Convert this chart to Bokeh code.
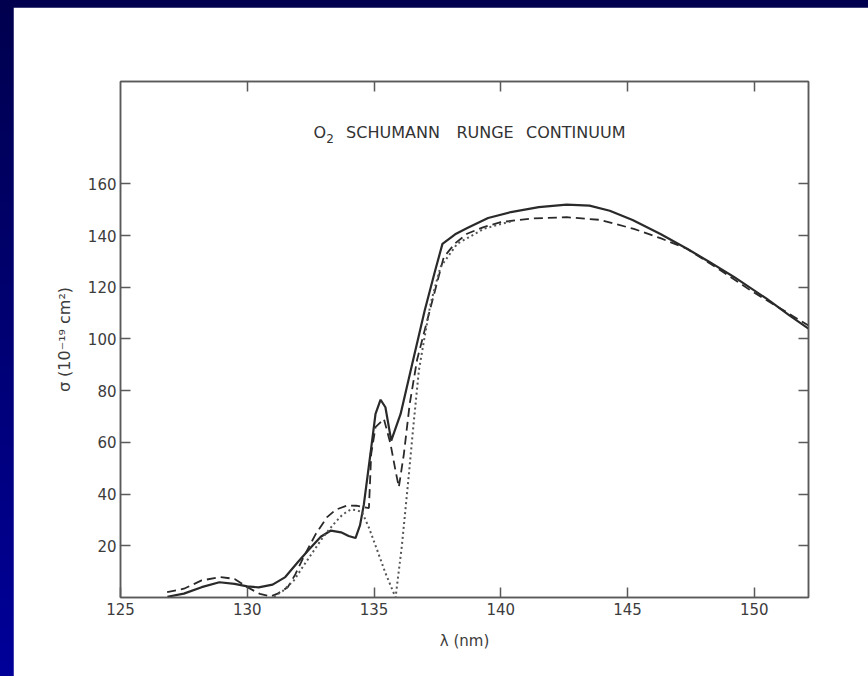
from bokeh.plotting import figure
from bokeh.models import Range1d, FixedTicker, LinearAxis, Label
from bokeh.layouts import column
from bokeh.embed import file_html
from bokeh.resources import INLINE

# wavelength (nm) / cross section (1e-19 cm^2)
solid_x = [126.85, 127.5, 128.2, 128.9, 129.5, 130.0, 130.45, 131.0, 131.5, 132.0, 132.4, 132.9,
           133.3, 133.7, 134.0, 134.27, 134.45, 134.6, 134.86, 135.06, 135.26, 135.45, 135.68,
           136.05, 136.5, 137.0, 137.4, 137.7, 138.2, 138.7, 139.5, 140.4, 141.5, 142.6, 143.5,
           144.3, 145.2, 146.3, 147.35, 148.2, 149.2, 150.5, 151.4, 152.14]
solid_y = [0.3, 1.5, 4.0, 5.9, 5.3, 4.3, 3.9, 5.0, 7.9, 13.7, 18.2, 23.5,
           25.9, 25.2, 23.8, 23.0, 28.0, 36.0, 55.6, 71.0, 76.5, 73.6, 60.7,
           71.0, 90.0, 111.0, 126.0, 136.8, 140.5, 143.0, 146.8, 149.1, 151.0, 152.0, 151.6,
           149.6, 146.0, 140.6, 134.9, 130.0, 124.0, 115.5, 109.0, 104.0]

dashed_x = [126.84, 127.5, 128.2, 128.94, 129.5, 130.0, 130.5, 130.92, 131.2, 131.6, 131.9, 132.25,
            132.7, 133.15, 133.5, 133.95, 134.3, 134.6, 134.8, 134.89, 135.06, 135.39, 135.65,
            135.85, 135.98, 136.18, 136.41, 136.7, 137.2, 137.75, 138.2, 138.67, 139.3, 140.0,
            141.2, 142.6, 143.9, 145.25, 146.3, 147.35, 148.6, 149.85, 151.0, 152.14]
dashed_y = [2.1, 3.4, 6.6, 7.9, 7.2, 4.0, 1.4, 0.4, 1.5, 4.0, 9.0, 16.2,
            24.5, 31.1, 34.0, 35.6, 35.5, 34.9, 34.6, 55.6, 65.9, 69.1, 59.5,
            49.0, 42.7, 55.6, 75.0, 92.0, 111.0, 131.6, 137.0, 140.7, 143.2, 145.2,
            146.6, 147.1, 146.1, 142.6, 139.0, 134.9, 127.0, 118.8, 112.0, 105.2]

dotted_x = [131.05, 131.4, 131.84, 132.2, 132.63, 133.0, 133.42, 133.75, 134.07, 134.3, 134.53,
            134.8, 135.13, 135.45, 135.85, 136.1, 136.35, 136.55, 136.77, 137.0, 137.23, 137.62,
            138.28, 139.33, 140.0, 140.5]
dotted_y = [0.3, 2.5, 6.6, 12.0, 18.2, 23.5, 28.5, 32.0, 34.0, 33.8, 33.0,
            27.0, 18.2, 9.5, 0.0, 20.0, 45.0, 66.0, 87.8, 101.0, 113.6, 127.8,
            136.8, 142.6, 144.5, 145.7]

x_ticks = [125, 130, 135, 140, 145, 150]
y_ticks = [20, 40, 60, 80, 100, 120, 140, 160]

INK = "#2a2a2a"
AX = "#5a5a5a"
FONT = "DejaVu Sans"

p = figure(width=855, height=669, output_backend="svg", toolbar_location=None,
           x_range=Range1d(125, 152.14), y_range=Range1d(0, 199.6),
           min_border_left=107, min_border_right=60, min_border_top=74, min_border_bottom=79,
           background_fill_color="white", border_fill_color="white")
p.xgrid.visible = False
p.ygrid.visible = False
p.outline_line_color = AX
p.outline_line_width = 1.5

def style_axis(ax, ticks, labels=True):
    ax.ticker = FixedTicker(ticks=ticks)
    ax.axis_line_color = AX
    ax.axis_line_width = 1.5
    ax.major_tick_line_color = AX
    ax.major_tick_line_width = 1.5
    ax.major_tick_in = 10
    ax.major_tick_out = 0
    ax.minor_tick_line_color = None
    ax.major_label_text_font = FONT
    if labels:
        ax.major_label_text_color = "#3c3c3c"
        ax.major_label_text_font_size = "15px"
    else:
        ax.major_label_text_color = None
        ax.major_label_text_font_size = "1px"
        ax.major_label_standoff = 0

xa = p.xaxis[0]
style_axis(xa, x_ticks)
xa.major_label_standoff = 5
xa.axis_label = "λ (nm)"
xa.axis_label_text_font = FONT
xa.axis_label_text_font_style = "normal"
xa.axis_label_text_font_size = "15px"
xa.axis_label_text_color = "#3c3c3c"
xa.axis_label_standoff = 14

ya = p.yaxis[0]
style_axis(ya, y_ticks)
ya.major_label_standoff = 4
ya.axis_label = "σ (10⁻¹⁹ cm²)"
ya.axis_label_text_font = FONT
ya.axis_label_text_font_style = "normal"
ya.axis_label_text_font_size = "16px"
ya.axis_label_text_color = "#3c3c3c"
ya.axis_label_standoff = 11

top = LinearAxis()
style_axis(top, x_ticks[1:], labels=False)
p.add_layout(top, "above")
right = LinearAxis()
style_axis(right, y_ticks, labels=False)
p.add_layout(right, "right")

p.line(solid_x, solid_y, line_color=INK, line_width=2.2)
p.line(dashed_x, dashed_y, line_color=INK, line_width=1.8, line_dash="9 5")
p.line(dotted_x, dotted_y, line_color="#555555", line_width=2, line_dash="2 3")

def lab(x, y, t, size="16px"):
    p.add_layout(Label(x=x, y=y, text=t, text_font=FONT, text_font_size=size,
                       text_color="#333333", text_baseline="alphabetic", text_align="left"))

lab(132.61, 180.0, "O")
lab(133.12, 177.6, "2", "12px")
lab(133.90, 180.0, "SCHUMANN")
lab(138.25, 180.0, "RUNGE")
lab(141.0, 180.0, "CONTINUUM")

page = column(p, width=868, height=676,
              styles={"background": "linear-gradient(to bottom, #00004e, #000099)",
                      "padding-top": "7px", "padding-left": "13px"})

open("out.html", "w").write(file_html(page, INLINE))
